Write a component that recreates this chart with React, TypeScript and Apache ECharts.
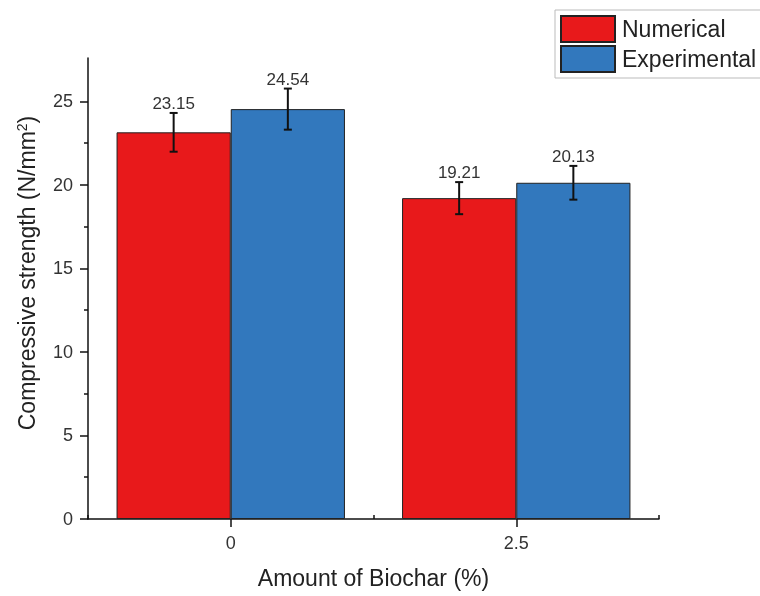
import React, { useEffect, useRef } from "react";
import * as echarts from "echarts";

const categories = ["0", "2.5"];
const seriesNames = ["Numerical", "Experimental"];
const numericalValues = [23.15, 19.21];
const experimentalValues = [24.54, 20.13];
const numericalErrors = [1.16, 0.96];
const experimentalErrors = [1.23, 1.01];
const majorTicks = [0, 5, 10, 15, 20, 25];
const minorTicks = [2.5, 7.5, 12.5, 17.5, 22.5];

const RED = "#e8191b";
const BLUE = "#3278bd";
const FONT = "Liberation Sans, Arial, sans-serif";

export default function App() {
  const ref = useRef<HTMLDivElement>(null);
  useEffect(() => {
    if (!ref.current) return;
    const chart = echarts.init(ref.current, null, { renderer: "svg" });

    const errData: any[] = [];
    numericalValues.forEach((v, i) => errData.push([i, v, numericalErrors[i], 0]));
    experimentalValues.forEach((v, i) => errData.push([i, v, experimentalErrors[i], 1]));

    const renderItem = (params: any, api: any) => {
      const ci = api.value(0);
      const v = api.value(1);
      const e = api.value(2);
      const si = api.value(3);
      const band = api.size([1, 0])[0];
      const off = (si === 0 ? -1 : 1) * band * 0.2;
      const top = api.coord([ci, v + e]);
      const bot = api.coord([ci, v - e]);
      const x = top[0] + off;
      const cap = 4;
      const st = { stroke: "#111", lineWidth: 2 };
      return {
        type: "group",
        children: [
          { type: "line", shape: { x1: x, y1: top[1], x2: x, y2: bot[1] }, style: st },
          { type: "line", shape: { x1: x - cap, y1: top[1], x2: x + cap, y2: top[1] }, style: st },
          { type: "line", shape: { x1: x - cap, y1: bot[1], x2: x + cap, y2: bot[1] }, style: st },
          {
            type: "text",
            x: x,
            y: top[1] - 1,
            style: {
              text: v.toFixed(2),
              fill: "#333",
              font: `17px ${FONT}`,
              align: "center",
              verticalAlign: "bottom",
            },
          },
        ],
      };
    };

    chart.setOption({
      animation: false,
      textStyle: { fontFamily: FONT },
      grid: { left: 88, right: 101, top: 58, bottom: 77, containLabel: false, outerBoundsMode: "none" },
      legend: {
        data: seriesNames,
        orient: "vertical",
        left: 555,
        top: 10,
        itemWidth: 54,
        itemHeight: 26,
        itemGap: 2,
        padding: [5, 20, 5, 5],
        borderColor: "#bbb",
        borderWidth: 1,
        icon: "rect",
        textStyle: { fontSize: 23, color: "#222", padding: [0, 0, 0, 2] },
      },
      xAxis: [
        {
          type: "category",
          data: categories,
          axisLine: { show: true, lineStyle: { color: "#111", width: 1.5 } },
          axisTick: { show: true, alignWithLabel: true, length: 8, lineStyle: { color: "#111", width: 1.5 } },
          axisLabel: { fontSize: 18, color: "#333", margin: 15 },
          name: "Amount of Biochar (%)",
          nameLocation: "middle",
          nameGap: 47,
          nameTextStyle: { fontSize: 23, color: "#222" },
        },
        {
          type: "category",
          data: categories,
          position: "bottom",
          axisLine: { show: false },
          axisTick: { show: true, inside: true, length: 4, lineStyle: { color: "#111", width: 1.5 } },
          axisLabel: { show: false },
        },
      ],
      yAxis: [
        {
          type: "value",
          min: 0,
          max: 27.6,
          splitLine: { show: false },
          axisLine: { show: true, lineStyle: { color: "#111", width: 1.5 } },
          axisTick: { show: true, length: 8, customValues: majorTicks, lineStyle: { color: "#111", width: 1.5 } },
          axisLabel: { fontSize: 18, color: "#333", margin: 15, customValues: majorTicks },
          name: "{a|Compressive strength (N/mm}{s|2}{a|)}",
          nameLocation: "middle",
          nameGap: 49,
          nameRotate: 90,
          nameTextStyle: {
            padding: [0, 0, 0, 31],
            rich: {
              a: { fontSize: 23, color: "#222", fontFamily: FONT },
              s: { fontSize: 14, color: "#222", fontFamily: FONT, verticalAlign: "top", padding: [0, 0, 10, 0] },
            },
          },
        },
        {
          type: "value",
          min: 0,
          max: 27.6,
          position: "left",
          splitLine: { show: false },
          axisLine: { show: false },
          axisTick: { show: true, length: 4, customValues: minorTicks, lineStyle: { color: "#111", width: 1.5 } },
          axisLabel: { show: false, customValues: minorTicks },
        },
      ],
      series: [
        {
          name: seriesNames[0],
          type: "bar",
          data: numericalValues,
          barGap: "0%",
          barCategoryGap: "20%",
          itemStyle: { color: RED, borderColor: "#222", borderWidth: 1 },
        },
        {
          name: seriesNames[1],
          type: "bar",
          data: experimentalValues,
          barGap: "0%",
          barCategoryGap: "20%",
          itemStyle: { color: BLUE, borderColor: "#222", borderWidth: 1 },
        },
        {
          type: "custom",
          renderItem,
          data: errData,
          z: 10,
          encode: { x: 0, y: 1 },
        },
      ],
    });
    return () => chart.dispose();
  }, []);
  return <div ref={ref} style={{ position: "fixed", left: 0, top: 0, width: 760, height: 596 }} />;
}
